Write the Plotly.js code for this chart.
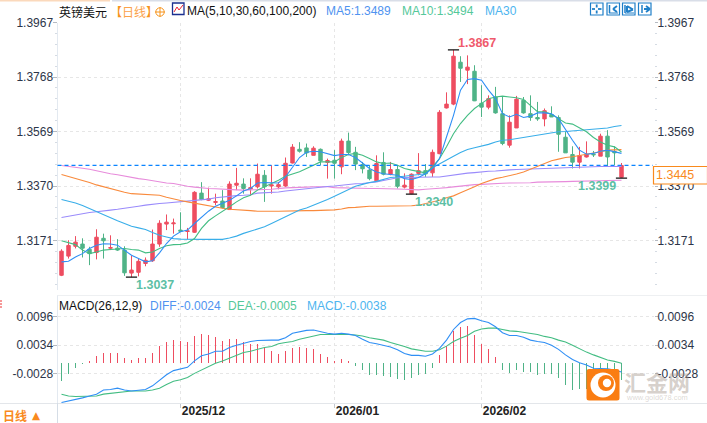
<!DOCTYPE html>
<html><head><meta charset="utf-8">
<script src="https://cdn.plot.ly/plotly-3.0.1.min.js"></script>
<style>html,body{margin:0;padding:0;background:#fff;overflow:hidden}#c{width:707px;height:423px}</style>
</head><body><div id="c"></div>
<script>
const openVals=[1.3044,1.3114,1.3150,1.3158,1.3139,1.3127,1.3179,1.3143,1.3143,1.3136,1.3052,1.3055,1.3087,1.3097,1.3158,1.3231,1.3232,1.3209,1.3204,1.3201,1.3344,1.3318,1.3310,1.3315,1.3284,1.3373,1.3377,1.3359,1.3367,1.3409,1.3370,1.3367,1.3370,1.3454,1.3504,1.3509,1.3482,1.3504,1.3456,1.3464,1.3440,1.3534,1.3493,1.3448,1.3428,1.3389,1.3456,1.3413,1.3430,1.3366,1.3342,1.3416,1.3426,1.3418,1.3488,1.3655,1.3669,1.3822,1.3793,1.3789,1.3672,1.3658,1.3695,1.3634,1.3519,1.3582,1.3683,1.3634,1.3620,1.3615,1.3631,1.3620,1.3548,1.3485,1.3457,1.3476,1.3486,1.3479,1.3552,1.3496,1.3402];
const highVals=[1.3139,1.3172,1.3187,1.3179,1.3148,1.3212,1.3196,1.3190,1.3176,1.3150,1.3117,1.3105,1.3109,1.3211,1.3245,1.3266,1.3251,1.3274,1.3217,1.3351,1.3384,1.3364,1.3342,1.3355,1.3387,1.3436,1.3398,1.3398,1.3452,1.3428,1.3446,1.3385,1.3474,1.3523,1.3530,1.3525,1.3515,1.3507,1.3470,1.3501,1.3543,1.3565,1.3513,1.3458,1.3446,1.3482,1.3493,1.3458,1.3446,1.3416,1.3416,1.3490,1.3450,1.3503,1.3647,1.3712,1.3867,1.3844,1.3847,1.3811,1.3738,1.3701,1.3732,1.3695,1.3628,1.3699,1.3695,1.3701,1.3677,1.3653,1.3661,1.3628,1.3567,1.3515,1.3513,1.3533,1.3498,1.3561,1.3574,1.3515,1.3454];
const lowVals=[1.3041,1.3105,1.3142,1.3109,1.3081,1.3102,1.3105,1.3136,1.3133,1.3042,1.3037,1.3040,1.3077,1.3093,1.3148,1.3209,1.3196,1.3203,1.3175,1.3199,1.3318,1.3315,1.3300,1.3288,1.3283,1.3355,1.3342,1.3336,1.3361,1.3312,1.3342,1.3358,1.3367,1.3452,1.3492,1.3476,1.3482,1.3446,1.3397,1.3397,1.3413,1.3482,1.3428,1.3416,1.3391,1.3385,1.3409,1.3409,1.3361,1.3361,1.3340,1.3409,1.3403,1.3403,1.3486,1.3653,1.3665,1.3750,1.3742,1.3680,1.3622,1.3650,1.3634,1.3519,1.3510,1.3582,1.3634,1.3608,1.3608,1.3588,1.3622,1.3495,1.3491,1.3434,1.3434,1.3474,1.3476,1.3479,1.3442,1.3446,1.3399];
const closeVals=[1.3132,1.3153,1.3165,1.3143,1.3123,1.3183,1.3170,1.3145,1.3136,1.3053,1.3063,1.3095,1.3099,1.3158,1.3234,1.3238,1.3235,1.3205,1.3206,1.3347,1.3321,1.3323,1.3313,1.3291,1.3377,1.3380,1.3361,1.3364,1.3413,1.3367,1.3374,1.3375,1.3453,1.3512,1.3497,1.3491,1.3508,1.3462,1.3463,1.3453,1.3534,1.3492,1.3450,1.3433,1.3397,1.3452,1.3413,1.3430,1.3369,1.3373,1.3413,1.3426,1.3414,1.3493,1.3639,1.3669,1.3844,1.3800,1.3804,1.3681,1.3658,1.3689,1.3637,1.3525,1.3603,1.3687,1.3637,1.3620,1.3615,1.3645,1.3622,1.3559,1.3491,1.3457,1.3481,1.3486,1.3484,1.3552,1.3476,1.3491,1.3445];
const ma5=[1.3093,1.3095,1.3111,1.3123,1.3142,1.3154,1.3159,1.3158,1.3154,1.3136,1.3117,1.3105,1.3093,1.3097,1.3126,1.3160,1.3187,1.3203,1.3209,1.3233,1.3257,1.3278,1.3296,1.3306,1.3318,1.3334,1.3352,1.3361,1.3381,1.3383,1.3383,1.3381,1.3403,1.3440,1.3474,1.3493,1.3497,1.3495,1.3489,1.3481,1.3485,1.3485,1.3474,1.3454,1.3434,1.3421,1.3415,1.3412,1.3409,1.3397,1.3394,1.3401,1.3415,1.3434,1.3470,1.3549,1.3628,1.3720,1.3759,1.3762,1.3756,1.3720,1.3689,1.3634,1.3622,1.3632,1.3620,1.3625,1.3637,1.3637,1.3634,1.3616,1.3574,1.3537,1.3501,1.3486,1.3489,1.3497,1.3501,1.3494,1.3489];
const ma10=[1.3170,1.3164,1.3156,1.3136,1.3123,1.3129,1.3136,1.3138,1.3139,1.3142,1.3138,1.3136,1.3126,1.3129,1.3142,1.3152,1.3156,1.3157,1.3162,1.3178,1.3215,1.3243,1.3261,1.3276,1.3294,1.3312,1.3327,1.3336,1.3355,1.3367,1.3379,1.3391,1.3406,1.3415,1.3422,1.3434,1.3446,1.3458,1.3458,1.3458,1.3474,1.3485,1.3489,1.3482,1.3470,1.3458,1.3452,1.3454,1.3446,1.3434,1.3428,1.3422,1.3418,1.3440,1.3470,1.3513,1.3561,1.3598,1.3628,1.3653,1.3671,1.3689,1.3695,1.3698,1.3695,1.3692,1.3686,1.3665,1.3641,1.3641,1.3632,1.3616,1.3600,1.3596,1.3583,1.3568,1.3547,1.3531,1.3519,1.3513,1.3494];
const ma30=[1.3321,1.3315,1.3308,1.3299,1.3288,1.3276,1.3263,1.3254,1.3243,1.3233,1.3223,1.3217,1.3211,1.3200,1.3190,1.3184,1.3178,1.3176,1.3175,1.3175,1.3175,1.3175,1.3175,1.3175,1.3180,1.3187,1.3197,1.3205,1.3211,1.3221,1.3233,1.3245,1.3257,1.3269,1.3282,1.3290,1.3300,1.3312,1.3321,1.3333,1.3345,1.3357,1.3369,1.3376,1.3383,1.3387,1.3394,1.3401,1.3403,1.3406,1.3409,1.3412,1.3415,1.3437,1.3452,1.3467,1.3479,1.3492,1.3503,1.3510,1.3515,1.3522,1.3531,1.3537,1.3539,1.3543,1.3547,1.3551,1.3555,1.3559,1.3564,1.3568,1.3569,1.3571,1.3574,1.3576,1.3576,1.3579,1.3582,1.3587,1.3591];
const ma60=[1.3412,1.3405,1.3397,1.3390,1.3383,1.3374,1.3367,1.3359,1.3352,1.3347,1.3342,1.3341,1.3340,1.3339,1.3336,1.3329,1.3322,1.3317,1.3312,1.3307,1.3302,1.3297,1.3294,1.3289,1.3285,1.3284,1.3283,1.3280,1.3278,1.3277,1.3278,1.3278,1.3279,1.3279,1.3280,1.3280,1.3280,1.3281,1.3281,1.3283,1.3286,1.3291,1.3292,1.3295,1.3296,1.3296,1.3296,1.3296,1.3296,1.3296,1.3298,1.3300,1.3306,1.3312,1.3318,1.3327,1.3334,1.3345,1.3355,1.3367,1.3379,1.3389,1.3397,1.3402,1.3407,1.3414,1.3421,1.3431,1.3442,1.3452,1.3462,1.3468,1.3474,1.3477,1.3481,1.3485,1.3489,1.3495,1.3501,1.3503,1.3503];
const ma100=[1.3255,1.3260,1.3263,1.3268,1.3273,1.3276,1.3278,1.3282,1.3285,1.3288,1.3291,1.3296,1.3300,1.3304,1.3306,1.3308,1.3310,1.3312,1.3314,1.3316,1.3318,1.3322,1.3327,1.3330,1.3334,1.3335,1.3336,1.3338,1.3344,1.3345,1.3346,1.3348,1.3352,1.3355,1.3358,1.3361,1.3363,1.3367,1.3368,1.3370,1.3373,1.3375,1.3378,1.3379,1.3381,1.3385,1.3390,1.3395,1.3400,1.3401,1.3402,1.3403,1.3403,1.3403,1.3403,1.3407,1.3409,1.3413,1.3417,1.3419,1.3422,1.3424,1.3425,1.3428,1.3429,1.3430,1.3431,1.3432,1.3433,1.3435,1.3436,1.3437,1.3438,1.3438,1.3440,1.3441,1.3441,1.3441,1.3441,1.3441,1.3441];
const ma200=[1.3445,1.3442,1.3440,1.3435,1.3431,1.3425,1.3420,1.3415,1.3411,1.3406,1.3401,1.3397,1.3394,1.3389,1.3385,1.3381,1.3379,1.3373,1.3369,1.3366,1.3363,1.3361,1.3360,1.3358,1.3357,1.3356,1.3355,1.3355,1.3356,1.3357,1.3358,1.3361,1.3363,1.3364,1.3364,1.3366,1.3367,1.3367,1.3367,1.3364,1.3363,1.3362,1.3361,1.3361,1.3361,1.3361,1.3361,1.3361,1.3359,1.3358,1.3357,1.3356,1.3358,1.3359,1.3362,1.3364,1.3367,1.3370,1.3373,1.3375,1.3376,1.3378,1.3379,1.3380,1.3381,1.3381,1.3382,1.3382,1.3384,1.3384,1.3385,1.3385,1.3386,1.3387,1.3387,1.3389,1.3389,1.3389,1.3390,1.3390,1.3391];
const diffVals=[-.0090,-.0087,-.0083,-.0080,-.0076,-.0072,-.0063,-.0062,-.0059,-.0063,-.0065,-.0063,-.0062,-.0054,-.0041,-.0030,-.0021,-.0018,-.0014,0,.0011,.0015,.0021,.0021,.0029,.0034,.0038,.0042,.0044,.0045,.0045,.0045,.0050,.0060,.0063,.0066,.0067,.0063,.0060,.0058,.0060,.0058,.0055,.0047,.0040,.0037,.0033,.0030,.0024,.0016,.0012,.0012,.0010,.0015,.0027,.0045,.0068,.0083,.0091,.0092,.0087,.0083,.0074,.0061,.0055,.0055,.0051,.0045,.0042,.0040,.0034,.0025,.0013,.0003,-.0004,-.0009,-.0016,-.0016,-.0017,-.0020,-.0024];
const deaVals=[-.0072,-.0076,-.0077,-.0077,-.0077,-.0076,-.0072,-.0070,-.0068,-.0067,-.0065,-.0065,-.0065,-.0063,-.0059,-.0051,-.0044,-.0041,-.0036,-.0027,-.0020,-.0012,-.0005,0,.0006,.0013,.0018,.0021,.0025,.0029,.0031,.0037,.0040,.0042,.0047,.0050,.0054,.0057,.0057,.0057,.0058,.0057,.0056,.0054,.0050,.0048,.0045,.0040,.0036,.0031,.0026,.0024,.0021,.0021,.0024,.0032,.0042,.0049,.0055,.0064,.0069,.0071,.0071,.0068,.0065,.0064,.0062,.0060,.0057,.0053,.0050,.0045,.0041,.0034,.0026,.0019,.0013,.0008,.0002,-.0001,-.0005];
const macdVals=[-.0041,-.0025,-.0012,-.0003,.0004,.0015,.0021,.0021,.0021,.0010,.0006,.0009,.0010,.0021,.0036,.0045,.0049,.0047,.0045,.0058,.0062,.0060,.0056,.0047,.0051,.0051,.0045,.0040,.0040,.0032,.0025,.0019,.0025,.0032,.0034,.0032,.0030,.0019,.0012,.0004,.0008,.0004,-.0007,-.0016,-.0026,-.0027,-.0029,-.0031,-.0035,-.0038,-.0033,-.0027,-.0025,-.0012,.0017,.0036,.0069,.0077,.0079,.0060,.0040,.0030,.0012,-.0016,-.0022,-.0016,-.0020,-.0020,-.0027,-.0025,-.0025,-.0033,-.0048,-.0059,-.0057,-.0057,-.0056,-.0052,-.0047,-.0042,-.0038];
const priceTicks=[1.3967,1.3768,1.3569,1.3370,1.3171];
const macdTicks=[0.0096,0.0034,-0.0028];
const monthIdx=[17,39,60];
const monthLabels=['2025/12','2026/01','2026/02'];
const extremeIdx=[10,50,56,80];
const extremeVals=[1.3037,1.3340,1.3867,1.3399];
const lastPrice=1.3445;

const RED='#ee4d60',GREEN='#4fb387',BLUE='#2f8ff5',GRN='#43bd83',LBLUE='#39aee9',ORG='#f98a3c',PUR='#9a8bfb',PINK='#e78bdb';
const FONT='"Liberation Sans",Arial,sans-serif',CJK='"Noto Sans CJK SC",sans-serif';
const idx=openVals.map((_,i)=>i);
const X0=57.5,X1=654,W=707,H=423;
const px=v=>v/W,py=v=>1-v/H;
const xr=[-4/7,(X1-61.5)/7];
const pTop=22.5,pBot=290,k=0.0199/54.5;
const pRange=[1.3967-(pBot-pTop)*k,1.3967];
const mTop=295,mBot=403,mk=1/4620,mZero=360.9;
const mRange=[-(mBot-mZero)*mk,(mZero-mTop)*mk];
const barBase=-0.00035;

const line=(y,color,name,xa,ya)=>({type:'scatter',mode:'lines',x:idx,y,name,xaxis:xa||'x',yaxis:ya||'y',line:{color,width:1.1},hoverinfo:'skip'});
const traces=[
 line(ma200,PINK,'MA200'),line(ma100,PUR,'MA100'),line(ma60,ORG,'MA60'),line(ma30,LBLUE,'MA30'),
 {type:'candlestick',x:idx,open:openVals,high:highVals,low:lowVals,close:closeVals,xaxis:'x',yaxis:'y',
  increasing:{line:{color:RED,width:1},fillcolor:RED},decreasing:{line:{color:GREEN,width:1},fillcolor:GREEN},hoverinfo:'skip',whiskerwidth:0},
 line(ma10,GRN,'MA10'),line(ma5,BLUE,'MA5'),
 {type:'scatter',mode:'markers',x:extremeIdx,y:extremeVals,xaxis:'x',yaxis:'y',marker:{symbol:'line-ew',size:8,line:{color:'#111',width:1.2}},hoverinfo:'skip'},
 {type:'scatter',mode:'markers',x:[],y:[],xaxis:'x',yaxis:'y2',hoverinfo:'skip'},
 {type:'bar',x:idx,y:macdVals,base:barBase,width:1.3/7,xaxis:'x2',yaxis:'y3',marker:{color:macdVals.map(v=>v>=0?RED:GREEN),line:{width:0}},hoverinfo:'skip'},
 line(deaVals,GRN,'DEA','x2','y3'),line(diffVals,BLUE,'DIFF','x2','y3'),
 {type:'scatter',mode:'markers',x:[],y:[],xaxis:'x2',yaxis:'y4',hoverinfo:'skip'}
];
const yBase=(side,overlay,anchor,domain,range,ticks)=>{
 const o={domain,range,side,anchor,tickmode:'array',tickvals:ticks,ticktext:ticks.map(v=>v.toFixed(4)),
  tickfont:{family:FONT,size:12,color:'#2d3548'},ticks:'outside',ticklen:side==='left'?4:3,tickcolor:'#b5bac2',tickwidth:1,ticklabelstandoff:-3,
  zeroline:false,showgrid:side==='left',gridcolor:'#e6e6e6',griddash:'dot',gridwidth:1,showline:side==='left',linecolor:'#e3e9f0',linewidth:1,fixedrange:true,automargin:false};
 if(overlay)o.overlaying=overlay;
 return o;
};
const pDom=[py(pBot),py(pTop)],mDom=[py(mBot),py(mTop)];
const xBase=(anchor,labels)=>({domain:[px(X0),px(X1)],range:xr,anchor,type:'linear',tickmode:'array',tickvals:monthIdx,ticktext:labels?monthLabels:['','',''],
 showgrid:true,gridcolor:'#e6e6e6',griddash:'dot',gridwidth:1,zeroline:false,showline:false,fixedrange:true,rangeslider:{visible:false},
 ticks:labels?'outside':'',ticklen:4,tickcolor:'#c5c9d0',tickfont:{family:FONT,size:12,color:'#222',weight:700},ticklabelshift:labels?23:0,ticklabelstandoff:labels?-7:0,automargin:false});

const ann=(x,y,text,color,size,font,extra)=>Object.assign({xref:'paper',yref:'paper',x:px(x),y:py(y),text,showarrow:false,xanchor:'left',yanchor:'middle',
 font:{family:font||FONT,size:size||12,color:color||'#111'},borderpad:0,borderwidth:0},extra||{});
const annotations=[
 ann(59,11,'英镑美元','#111',12,CJK),
 ann(110,11,'【','#f7941d',12,CJK),ann(122,11,'日线','#fba24a',12,CJK),ann(146,11,'】','#f7941d',12,CJK),
 ann(187,11,'MA(5,10,30,60,100,200)','#111',12),
 ann(326,11,'MA5:1.3489','#4f93f0',12),ann(402,11,'MA10:1.3494','#55c89a',12),ann(485,11,'MA30','#4db5ef',12),
 ann(59,306,'MACD(26,12,9)','#111',12),ann(150,306,'DIFF:-0.0024','#4f93f0',12),ann(228,306,'DEA:-0.0005','#55c89a',12),ann(307,306,'MACD:-0.0038','#4db5ef',12),
 ann(458,43,'1.3867','#ef5a6c',12.5,FONT,{font:{family:FONT,size:12.5,color:'#ef5a6c',weight:700}}),
 ann(136,285,'1.3037','#5cbfa5',12.5,FONT,{font:{family:FONT,size:12.5,color:'#5cbfa5',weight:700}}),
 ann(415,202,'1.3340','#5cbfa5',12.5,FONT,{font:{family:FONT,size:12.5,color:'#5cbfa5',weight:700}}),
 ann(578,186,'1.3399','#5cbfa5',12.5,FONT,{font:{family:FONT,size:12.5,color:'#5cbfa5',weight:700}}),
 ann(3,415,'<b>日线</b>','#f98a1d',12,CJK),ann(32,415,'▲','#f98a1d',10.5,'"DejaVu Sans"'),
 ann(656,175,'1.3445','#f98a1d',12.5),
 ann(624,381,'<b>汇金网</b>','rgba(165,150,140,0.45)',22,CJK),
 ann(626,397,'www.gold678.com','rgba(170,160,150,0.4)',7.5)
];
const rect=(x0,y0,x1,y1,o)=>Object.assign({type:'rect',xref:'paper',yref:'paper',x0:px(x0),x1:px(x1),y0:py(y0),y1:py(y1),line:{width:0},layer:'above'},o||{});
const seg=(x0,y0,x1,y1,color,w)=>({type:'line',xref:'paper',yref:'paper',x0:px(x0),x1:px(x1),y0:py(y0),y1:py(y1),line:{color,width:w||1},layer:'above'});
const circ=(cx,cy,r,o)=>Object.assign({type:'circle',xref:'paper',yref:'paper',x0:px(cx-r),x1:px(cx+r),y0:py(cy+r),y1:py(cy-r),line:{width:0},layer:'above'},o);
const shapes=[
 rect(0,0,110,1.5,{fillcolor:'#fbd9bc'}),rect(112,0,707,1.5,{fillcolor:'#d9dee8'}),
 seg(0,403.5,707,403.5,'#e3e6ea'),seg(X0,295.5,707,295.5,'#eef0f2'),seg(57.5,403,57.5,423,'#d5dde6'),
 {type:'scatter'}&&{type:'line',xref:'paper',yref:'y',x0:px(X0),x1:px(653),y0:lastPrice,y1:lastPrice,line:{color:'#0a84ff',width:1.3,dash:'4px,3px'},layer:'above'},
 rect(653.5,166.5,707.5,184,{fillcolor:'#fff',line:{color:'#f98a1d',width:1.2}}),
 rect(172.5,3,184,14.5,{fillcolor:'#fff',line:{color:'#1a2f8f',width:1.3}}),
 seg(174,12,177,7,'#e23',1),seg(177,7,179,10,'#e23',1),seg(179,10,183,5,'#e23',1),
 circ(160,12,4.2,{fillcolor:'rgba(0,0,0,0)',line:{color:'#f7941d',width:1}}),seg(155,12,165,12,'#f7941d',1),seg(160,7,160,17,'#f7941d',1),
 rect(590.5,3,603,15,{line:{color:'#1f7fc8',width:1.2}}),rect(607,3,619.5,15,{line:{color:'#1f7fc8',width:1.2}}),rect(622.5,3,635,15,{line:{color:'#1f7fc8',width:1.2}}),rect(638.5,3,651,15,{line:{color:'#1f7fc8',width:1.2}}),
 seg(592,9,595,9,'#1f7fc8',1.8),seg(598,9,601.5,9,'#1f7fc8',1.8),seg(596.7,4.5,596.7,7.5,'#1f7fc8',1.8),seg(596.7,10.5,596.7,13.5,'#1f7fc8',1.8),
 seg(609.5,5,609.5,13,'#1f7fc8',1.5),seg(609,13,618,13,'#1f7fc8',1),seg(613,9,617,6,'#1f7fc8',1.8),seg(613,9,617,12,'#1f7fc8',1.8),
 seg(625,5,625,13,'#1f7fc8',1.5),seg(625,13,634,13,'#1f7fc8',1),seg(627,6,633,9.5,'#1f7fc8',2),seg(627,12,633,9.5,'#1f7fc8',2),seg(627,6,627,12,'#1f7fc8',2),
 seg(642,5,642,13,'#1f7fc8',1.5),seg(644,9,650,9,'#1f7fc8',2),seg(646,6,650,9,'#1f7fc8',1.8),seg(646,12,650,9,'#1f7fc8',1.8),
 seg(0,301,2,301,'#e33',1),seg(0,304,2,304,'#e33',1),seg(0,307,2,307,'#e33',1),
 {type:'path',xref:'paper',yref:'paper',layer:'above',fillcolor:'#fa7d12',line:{width:0},
  path:`M ${px(589)} ${py(369)} L ${px(617)} ${py(369)} Q ${px(619.5)} ${py(369)} ${px(619.5)} ${py(371.5)} L ${px(619.5)} ${py(398)} Q ${px(619.5)} ${py(400.5)} ${px(617)} ${py(400.5)} L ${px(589)} ${py(400.5)} Q ${px(586.5)} ${py(400.5)} ${px(586.5)} ${py(398)} L ${px(586.5)} ${py(371.5)} Q ${px(586.5)} ${py(369)} ${px(589)} ${py(369)} Z`},
 circ(603,385,12.5,{fillcolor:'#fff'}),circ(606,383,8,{fillcolor:'#fa7d12'}),circ(607,383,4.2,{fillcolor:'#fff'}),
];
const layout={width:W,height:H,margin:{l:0,r:0,t:0,b:0,pad:0},paper_bgcolor:'#fff',plot_bgcolor:'#fff',showlegend:false,boxgap:0.3,boxmode:'overlay',bargap:0,barmode:'overlay',
 hovermode:false,dragmode:false,
 xaxis:xBase('y',false),xaxis2:xBase('y3',true),
 yaxis:yBase('left',null,'x',pDom,pRange,priceTicks),
 yaxis2:yBase('right','y','x',pDom,pRange,priceTicks),
 yaxis3:yBase('left',null,'x2',mDom,mRange,macdTicks),
 yaxis4:yBase('right','y3','x2',mDom,mRange,macdTicks),
 annotations,shapes};
layout.yaxis.minor={dtick:0.00398,tick0:1.3171,ticks:'outside',ticklen:2,tickcolor:'#d5dbe3',showgrid:false};
layout.yaxis2.minor={dtick:0.00398,tick0:1.3171,ticks:'outside',ticklen:2,tickcolor:'#d5dbe3',showgrid:false};
Plotly.newPlot('c',traces,layout,{displayModeBar:false,staticPlot:true,responsive:false});
</script></body></html>
